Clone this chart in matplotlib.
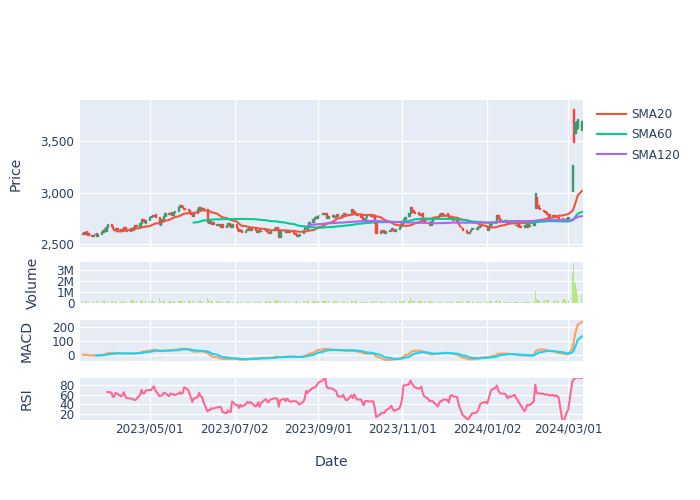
import numpy as np
import pandas as pd
import matplotlib
matplotlib.use("Agg")
import matplotlib.pyplot as plt
from matplotlib.ticker import FixedLocator, FuncFormatter
from matplotlib.lines import Line2D

# ---------------- data ----------------
dates = pd.bdate_range("2023-03-13", "2024-03-11")

close = [
    2610, 2595, 2620, 2605, 2585,
    2575, 2590, 2600, 2580, 2598,
    2615, 2640, 2630, 2665, 2690,
    2670, 2650, 2635, 2655, 2640,
    2625, 2645, 2660, 2640, 2630,
    2650, 2640, 2665, 2685, 2670,
    2700, 2745, 2725, 2710, 2730,
    2760, 2775, 2770, 2785, 2760,
    2690, 2720, 2745, 2770, 2800,
    2790, 2805, 2780, 2810, 2820,
    2860, 2880, 2870, 2855, 2840,
    2830, 2810, 2790, 2775, 2800,
    2835, 2860, 2845, 2850, 2840,
    2710, 2720, 2700, 2715, 2690,
    2695, 2680, 2670, 2690, 2665,
    2680, 2700, 2675, 2665, 2690,
    2660, 2640, 2625, 2635, 2620,
    2630, 2645, 2655, 2640, 2650,
    2635, 2620, 2640, 2625, 2630,
    2640, 2625, 2615, 2605, 2630,
    2655, 2665, 2645, 2570, 2625,
    2630, 2620, 2635, 2625, 2615,
    2605, 2595, 2580, 2590, 2600,
    2640, 2660, 2650, 2680, 2710,
    2740, 2760, 2755, 2775, 2785,
    2800, 2795, 2805, 2750, 2770,
    2780, 2765, 2775, 2790, 2770,
    2785, 2800, 2790, 2780, 2795,
    2840, 2820, 2800, 2790, 2780,
    2765, 2745, 2735, 2755, 2770,
    2780, 2775, 2760, 2700, 2610,
    2625, 2635, 2620, 2610, 2625,
    2640, 2655, 2640, 2630, 2645,
    2660, 2690, 2710, 2740, 2765,
    2800, 2860, 2830, 2815, 2805,
    2795, 2785, 2800, 2740, 2710,
    2700, 2685, 2720, 2745, 2760,
    2775, 2790, 2800, 2785, 2795,
    2780, 2765, 2770, 2750, 2730,
    2710, 2690, 2670, 2660, 2640,
    2615, 2605, 2620, 2640, 2650,
    2645, 2660, 2675, 2690, 2680,
    2670, 2635, 2665, 2695, 2705,
    2715, 2780, 2750, 2735, 2720,
    2730, 2715, 2705, 2720, 2700,
    2690, 2680, 2695, 2675, 2665,
    2680, 2670, 2690, 2675, 2685,
    2700, 2995, 2880, 2850, 2835,
    2820, 2810, 2795, 2790, 2775,
    2780, 2765, 2770, 2760, 2755,
    2740, 2730, 2745, 2755, 2760,
    3270, 3490, 3690, 3700, 3720,
    3700,
]

open_ = [
    2600, 2612, 2593, 2622, 2603,
    2588, 2573, 2592, 2602, 2578,
    2600, 2613, 2642, 2628, 2663,
    2692, 2672, 2648, 2633, 2657,
    2642, 2623, 2647, 2662, 2638,
    2628, 2652, 2638, 2663, 2687,
    2672, 2702, 2747, 2723, 2708,
    2732, 2762, 2777, 2768, 2787,
    2758, 2688, 2722, 2743, 2772,
    2802, 2788, 2807, 2778, 2812,
    2822, 2862, 2882, 2868, 2853,
    2842, 2828, 2812, 2788, 2773,
    2802, 2837, 2862, 2843, 2852,
    2838, 2708, 2722, 2698, 2717,
    2688, 2697, 2678, 2668, 2692,
    2663, 2682, 2702, 2673, 2663,
    2692, 2658, 2642, 2623, 2637,
    2618, 2632, 2643, 2657, 2638,
    2652, 2633, 2618, 2642, 2623,
    2632, 2642, 2623, 2613, 2603,
    2632, 2657, 2663, 2643, 2572,
    2627, 2632, 2618, 2637, 2623,
    2613, 2603, 2597, 2578, 2588,
    2602, 2642, 2662, 2648, 2682,
    2712, 2742, 2762, 2753, 2777,
    2787, 2802, 2793, 2803, 2748,
    2772, 2782, 2763, 2777, 2792,
    2768, 2787, 2802, 2788, 2778,
    2797, 2842, 2818, 2798, 2788,
    2778, 2763, 2743, 2733, 2757,
    2772, 2782, 2773, 2758, 2702,
    2608, 2627, 2637, 2618, 2608,
    2627, 2642, 2657, 2638, 2628,
    2647, 2662, 2692, 2712, 2742,
    2767, 2802, 2862, 2828, 2813,
    2807, 2793, 2783, 2802, 2738,
    2708, 2698, 2683, 2722, 2747,
    2762, 2777, 2792, 2802, 2783,
    2797, 2778, 2763, 2772, 2748,
    2728, 2708, 2688, 2668, 2658,
    2638, 2613, 2603, 2622, 2642,
    2652, 2643, 2662, 2677, 2692,
    2678, 2668, 2633, 2667, 2697,
    2707, 2717, 2782, 2748, 2733,
    2718, 2732, 2713, 2703, 2722,
    2698, 2688, 2678, 2697, 2673,
    2663, 2682, 2668, 2692, 2673,
    2687, 2850, 2960, 2878, 2852,
    2833, 2822, 2808, 2793, 2788,
    2773, 2782, 2763, 2772, 2758,
    2753, 2738, 2728, 2747, 2752,
    3010, 3810, 3580, 3620, 3630,
    3610,
]

volume_k = [
    150, 120, 180, 140, 110,
    130, 160, 120, 140, 170,
    210, 190, 150, 180, 220,
    160, 140, 120, 150, 130,
    120, 140, 160, 130, 110,
    150, 250, 180, 170, 140,
    160, 200, 150, 130, 140,
    180, 160, 140, 150, 130,
    450, 220, 180, 160, 200,
    140, 150, 130, 160, 180,
    220, 200, 160, 150, 140,
    300, 180, 160, 170, 150,
    160, 180, 150, 140, 130,
    450, 250, 180, 160, 150,
    140, 130, 120, 150, 130,
    120, 140, 130, 110, 120,
    110, 130, 120, 100, 120,
    110, 120, 130, 110, 100,
    120, 110, 130, 120, 110,
    130, 150, 140, 160, 170,
    220, 250, 200, 300, 180,
    150, 130, 140, 120, 110,
    120, 130, 140, 120, 110,
    150, 170, 140, 180, 200,
    210, 190, 160, 170, 150,
    180, 160, 150, 170, 140,
    130, 120, 140, 150, 130,
    140, 150, 130, 120, 160,
    250, 200, 170, 150, 140,
    130, 120, 110, 140, 130,
    120, 110, 140, 180, 220,
    150, 130, 120, 110, 130,
    120, 110, 130, 120, 140,
    150, 160, 140, 170, 180,
    200, 500, 250, 180, 160,
    150, 140, 130, 160, 170,
    150, 130, 140, 120, 130,
    120, 130, 110, 120, 130,
    120, 110, 130, 120, 110,
    130, 140, 150, 130, 140,
    160, 150, 130, 120, 140,
    110, 120, 130, 120, 110,
    120, 150, 130, 140, 160,
    170, 250, 180, 150, 140,
    130, 120, 110, 130, 120,
    110, 120, 130, 110, 100,
    120, 110, 130, 120, 110,
    130, 1100, 380, 300, 250,
    220, 260, 230, 250, 240,
    210, 230, 200, 260, 220,
    250, 350, 230, 220, 240,
    2700, 3500, 1800, 1300, 700,
    800,
]

tick_dates = ["2023-05-01", "2023-07-02", "2023-09-01", "2023-11-01", "2024-01-02", "2024-03-01"]
tick_labels = ["2023/05/01", "2023/07/02", "2023/09/01", "2023/11/01", "2024/01/02", "2024/03/01"]

# ---------------- indicators ----------------
c = pd.Series(close, index=dates, dtype=float)
o = pd.Series(open_, index=dates, dtype=float)
vol = pd.Series(volume_k, index=dates, dtype=float) * 1000

sma20 = c.rolling(20).mean()
sma60 = c.rolling(60).mean()
sma120 = c.rolling(120).mean()

ema12 = c.ewm(span=12, adjust=False).mean()
ema26 = c.ewm(span=26, adjust=False).mean()
macd = ema12 - ema26
signal = macd.ewm(span=9, adjust=False, min_periods=9).mean()

delta = c.diff()
gain = delta.clip(lower=0).rolling(14).mean()
loss = (-delta.clip(upper=0)).rolling(14).mean()
rsi = 100 - 100 / (1 + gain / loss)

# ---------------- styling ----------------
plt.rcParams["font.family"] = ["DejaVu Sans"]
TXT = "#2a3f5f"
BG = "#E5ECF6"
INC = "#3D9970"
DEC = "#FF4136"
FS_TICK = 12 * 72 / 100
FS_TITLE = 14 * 72 / 100

fig = plt.figure(figsize=(7, 5), dpi=100)
fig.patch.set_facecolor("white")


def px_axes(x0, y0, x1, y1):
    return fig.add_axes([x0 / 700, 1 - y1 / 500, (x1 - x0) / 700, (y1 - y0) / 500])


ax_p = px_axes(80, 100, 583, 247)
ax_v = px_axes(80, 262, 583, 303)
ax_m = px_axes(80, 320, 583, 361)
ax_r = px_axes(80, 378, 583, 420)
axes = [ax_p, ax_v, ax_m, ax_r]

xmin = pd.Timestamp("2023-03-11 03:00")
xmax = pd.Timestamp("2024-03-11 20:00")
tdates = pd.to_datetime(tick_dates)

for ax in axes:
    ax.set_facecolor(BG)
    for s in ax.spines.values():
        s.set_visible(False)
    ax.set_xlim(xmin, xmax)
    ax.xaxis.set_major_locator(FixedLocator(matplotlib.dates.date2num(tdates)))
    ax.grid(True, color="white", linewidth=1.0)
    ax.set_axisbelow(True)
    ax.tick_params(axis="y", length=0, labelsize=FS_TICK, labelcolor=TXT, pad=4)
    ax.tick_params(axis="x", length=0, labelsize=FS_TICK, labelcolor=TXT, pad=2)
    ax.set_xticklabels([])

# candles
body_low = np.minimum(o.values, c.values)
body_h = np.maximum(np.abs(c.values - o.values), 1.0)
cols = [INC if cc >= oo else DEC for oo, cc in zip(o.values, c.values)]
ax_p.bar(dates, body_h, bottom=body_low, width=1.0, color=cols, edgecolor=cols, linewidth=1.0, zorder=2)
ax_p.plot(dates, sma20, color="#EF553B", lw=1.5, zorder=3)
ax_p.plot(dates, sma60, color="#00CC96", lw=1.5, zorder=3)
ax_p.plot(dates, sma120, color="#AB63FA", lw=1.5, zorder=3)
ax_p.set_ylim(2470, 3900)
ax_p.yaxis.set_major_locator(FixedLocator([2500, 3000, 3500]))
ax_p.yaxis.set_major_formatter(FuncFormatter(lambda v, p: f"{int(v):,}"))
ax_p.set_ylabel("Price", fontsize=FS_TITLE, color=TXT)
ax_p.yaxis.set_label_coords(-0.115, 0.5)

# volume
ax_v.bar(dates, vol, width=0.8, color="#B6E880", zorder=2)
ax_v.set_ylim(0, 3.68e6)
ax_v.yaxis.set_major_locator(FixedLocator([0, 1e6, 2e6, 3e6]))
ax_v.yaxis.set_major_formatter(FuncFormatter(lambda v, p: "0" if v == 0 else f"{int(v/1e6)}M"))
ax_v.set_ylabel("Volume", fontsize=FS_TITLE, color=TXT)
ax_v.yaxis.set_label_coords(-0.08, 0.5)

# MACD
ax_m.plot(dates, macd, color="#FFA15A", lw=1.5, zorder=3)
ax_m.plot(dates, signal, color="#19D3F3", lw=1.5, zorder=3)
ax_m.set_ylim(-45, 252)
ax_m.yaxis.set_major_locator(FixedLocator([0, 100, 200]))
ax_m.set_ylabel("MACD", fontsize=FS_TITLE, color=TXT)
ax_m.yaxis.set_label_coords(-0.092, 0.5)

# RSI
ax_r.plot(dates, rsi, color="#FF6692", lw=1.5, zorder=3)
ax_r.set_ylim(8, 94)
ax_r.yaxis.set_major_locator(FixedLocator([20, 40, 60, 80]))
ax_r.set_ylabel("RSI", fontsize=FS_TITLE, color=TXT)
ax_r.yaxis.set_label_coords(-0.092, 0.5)
ax_r.set_xticklabels(tick_labels)
fig.text(331.5 / 700, 1 - 462 / 500, "Date", ha="center", va="center",
         fontsize=FS_TITLE, color=TXT)

handles = [
    Line2D([], [], color="#EF553B", lw=1.5),
    Line2D([], [], color="#00CC96", lw=1.5),
    Line2D([], [], color="#AB63FA", lw=1.5),
]
fig.legend(handles, ["SMA20", "SMA60", "SMA120"], loc="upper left",
           bbox_to_anchor=(592 / 700, 1 - 103 / 500), frameon=False,
           fontsize=FS_TICK, labelcolor=TXT, handlelength=2.4,
           handletextpad=0.45, labelspacing=0.62, borderaxespad=0)

fig.savefig("out.png", dpi=100)
